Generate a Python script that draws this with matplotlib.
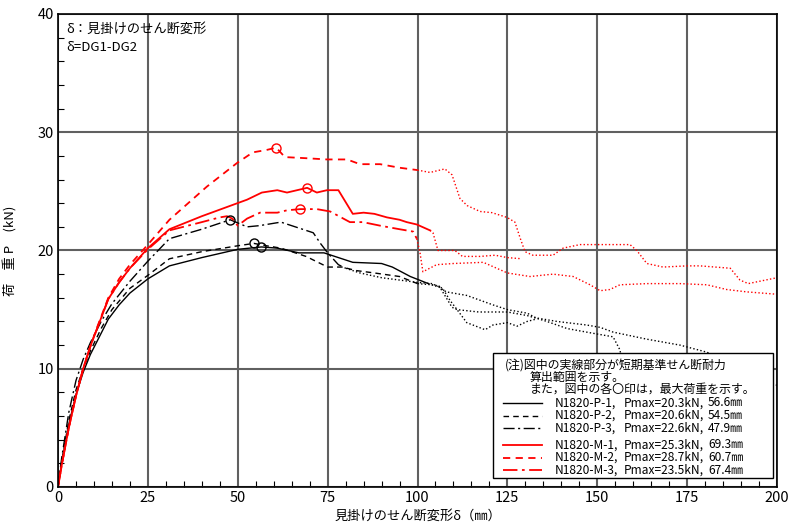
import numpy as np
import matplotlib
matplotlib.use("Agg")
import matplotlib.pyplot as plt
from matplotlib.patches import Rectangle
from matplotlib.lines import Line2D

plt.rcParams['font.family'] = ['Noto Sans CJK JP', 'DejaVu Sans']

# ---- specimen data: shear deformation (mm) vs load (kN) ----
# "main" = evaluated range (solid / dashed / dash-dot), "post" = dotted continuation
p1_main_x = [0, 1, 3, 5, 7, 9, 12, 14, 17, 20, 25, 31, 40, 50, 56.6, 61, 67, 74, 77, 82, 90, 93, 98, 103]
p1_main_y = [0, 2.0, 5.3, 7.8, 9.7, 11.2, 13.0, 14.2, 15.4, 16.4, 17.6, 18.7, 19.4, 20.1, 20.3, 20.2, 19.8, 19.8, 19.5, 19.0, 18.9, 18.6, 17.8, 17.2]
p1_post_x = [103, 106, 108, 113.7, 121, 125, 130.5, 133, 138.8, 147, 150.8, 154.4, 163.8, 173, 180.5, 190, 200]
p1_post_y = [17.2, 16.9, 16.5, 16.2, 15.4, 15.0, 14.7, 14.3, 14.0, 13.7, 13.5, 13.1, 12.5, 12.0, 11.4, 10.1, 8.6]

p2_main_x = [0, 1, 3, 5, 7, 9, 12, 15, 20, 25, 31, 40, 50, 54.5, 58, 62, 69, 75, 79, 83, 88, 95, 100]
p2_main_y = [0, 2.1, 5.6, 8.2, 10.0, 11.5, 13.4, 15.0, 16.8, 17.9, 19.3, 19.9, 20.4, 20.6, 20.4, 20.2, 19.5, 18.6, 18.6, 18.3, 18.1, 17.8, 17.2]
p2_post_x = [100, 104, 106, 108, 109.6, 111, 117, 125, 130.5, 136, 141.6, 148.8, 154.4, 156.3, 158]
p2_post_y = [17.2, 17.1, 17.0, 16.0, 15.2, 15.0, 14.8, 14.8, 14.5, 14.0, 13.4, 13.0, 12.7, 11.6, 9.0]

p3_main_x = [0, 1, 3, 5, 7, 9, 12, 15, 20, 25, 31, 40, 47.9, 52.6, 56, 62, 67, 71, 73, 75, 78, 80]
p3_main_y = [0, 2.4, 6.3, 9.0, 10.8, 12.2, 14.0, 15.5, 17.4, 19.1, 21.0, 21.8, 22.6, 22.0, 22.1, 22.4, 21.9, 21.5, 20.6, 19.8, 18.8, 18.5]
p3_post_x = [80, 84, 90, 95, 100, 104, 107, 109, 111, 113.7, 118.8, 121, 125, 127.7, 130.5, 133]
p3_post_y = [18.5, 18.1, 17.7, 17.5, 17.3, 17.2, 16.8, 15.8, 15.0, 13.9, 13.3, 13.7, 13.9, 13.6, 14.0, 14.2]

m1_main_x = [0, 1, 3, 5, 7, 9, 11, 14, 17, 20, 25, 31, 40, 52.6, 56.7, 61, 63.7, 69.3, 72, 74.8, 78, 82, 85, 88, 91.5, 95, 97, 99.8, 103.5]
m1_main_y = [0, 1.8, 5.0, 7.7, 10.0, 11.9, 13.5, 15.9, 17.3, 18.5, 20.2, 21.8, 22.9, 24.3, 24.9, 25.1, 24.9, 25.3, 24.9, 25.1, 25.1, 23.1, 23.2, 23.1, 22.8, 22.6, 22.4, 22.2, 21.7]
m1_post_x = [103.5, 104.3, 105.7, 108, 110.4, 112.5, 117.4, 121.6, 125, 129]
m1_post_y = [21.7, 21.5, 20.0, 20.0, 20.0, 19.5, 19.5, 19.6, 19.4, 19.3]

m2_main_x = [0, 1, 3, 5, 7, 9, 11, 14, 17, 20, 25, 31, 41.4, 49.8, 54.2, 58, 60.7, 63.1, 69.3, 74.8, 80.4, 84, 89.6, 95, 100]
m2_main_y = [0, 1.8, 5.0, 7.7, 10.0, 11.9, 13.6, 16.0, 17.6, 18.8, 20.5, 22.6, 25.4, 27.4, 28.3, 28.5, 28.7, 27.9, 27.8, 27.7, 27.7, 27.3, 27.3, 27.0, 26.8]
m2_post_x = [100, 103.5, 107.6, 109.6, 111.8, 113.8, 117.4, 120.7, 124.9, 127.1, 128.5, 129.9, 132.1, 137.7, 140.5, 145.2,
             149.9, 154.4, 159.1, 161, 163.8, 168.3, 175, 178.6, 187, 189.7, 192, 200]
m2_post_y = [26.8, 26.6, 26.9, 26.4, 24.4, 23.8, 23.3, 23.2, 22.8, 22.4, 21.1, 19.9, 19.6, 19.6, 20.2, 20.5,
             20.5, 20.5, 20.5, 20.0, 18.9, 18.6, 18.7, 18.7, 18.5, 17.5, 17.2, 17.7]

m3_main_x = [0, 1, 3, 5, 7, 9, 11, 14, 17, 20, 25, 31, 40, 45, 47, 48.5, 50, 52.6, 56.2, 61, 63.7, 67.4, 72, 75.7, 81.2, 84.8, 89.6, 95, 98.8, 99.8]
m3_main_y = [0, 1.8, 5.0, 7.7, 10.0, 11.9, 13.5, 15.9, 17.3, 18.5, 20.1, 21.7, 22.4, 22.8, 22.9, 22.7, 22.1, 22.7, 23.2, 23.2, 23.4, 23.5, 23.5, 23.3, 22.4, 22.4, 22.1, 21.8, 21.6, 21.0]
m3_post_x = [99.8, 100.7, 101.5, 105.3, 110, 118.3, 125, 131.3, 137.7, 143.3, 148, 150.8, 153.5, 156.3, 163.8, 173, 180.5, 186, 191.6, 200]
m3_post_y = [21.0, 19.8, 18.2, 18.8, 18.9, 19.0, 18.1, 17.8, 18.0, 17.8, 17.1, 16.6, 16.7, 17.1, 17.2, 17.2, 17.1, 16.7, 16.5, 16.3]

names = ['N1820-P-1', 'N1820-P-2', 'N1820-P-3', 'N1820-M-1', 'N1820-M-2', 'N1820-M-3']
pmax = [20.3, 20.6, 22.6, 25.3, 28.7, 23.5]
dmax = [56.6, 54.5, 47.9, 69.3, 60.7, 67.4]

x_ticks = [0, 25, 50, 75, 100, 125, 150, 175, 200]
y_ticks = [0, 10, 20, 30, 40]

series = [
    (p1_main_x, p1_main_y, p1_post_x, p1_post_y),
    (p2_main_x, p2_main_y, p2_post_x, p2_post_y),
    (p3_main_x, p3_main_y, p3_post_x, p3_post_y),
    (m1_main_x, m1_main_y, m1_post_x, m1_post_y),
    (m2_main_x, m2_main_y, m2_post_x, m2_post_y),
    (m3_main_x, m3_main_y, m3_post_x, m3_post_y),
]
colors = ['black', 'black', 'black', '#ff0000', '#ff0000', '#ff0000']
styles = ['-', (0, (4, 3)), (0, (8, 2.5, 1.5, 2.5)), '-', (0, (4, 3)), (0, (8, 2.5, 1.5, 2.5))]
widths = [1.0, 1.0, 1.0, 1.3, 1.3, 1.3]

fig = plt.figure(figsize=(7.89, 5.25), dpi=100)
ax = fig.add_axes([58 / 789, 38 / 525, 719 / 789, 473 / 525])

for (mx, my, qx, qy), c, ls, lw in zip(series, colors, styles, widths):
    ax.plot(mx, my, color=c, linestyle=ls, lw=lw, zorder=3)
    ax.plot(qx, qy, color=c, linestyle=(0, (1, 1.6)), lw=1.0, zorder=3)

for d, p, c in zip(dmax, pmax, colors):
    ax.plot(d, p, marker='o', ms=6.5, mfc='none', mec=c, mew=1.0, zorder=4)

ax.set_xlim(0, 200)
ax.set_ylim(0, 40)
ax.set_xticks(x_ticks)
ax.set_yticks(y_ticks)
ax.set_xticks(np.arange(0, 201, 5), minor=True)
ax.set_yticks(np.arange(0, 41, 2), minor=True)
ax.grid(True, which='major', color='#606060', lw=1.5, zorder=1)
ax.tick_params(which='both', direction='in', top=False, right=False)
ax.tick_params(which='major', length=0, labelsize=10.5, pad=3)
ax.tick_params(which='minor', length=4, width=0.8)
for s in ax.spines.values():
    s.set_linewidth(1.2)
    s.set_zorder(5)

ax.set_xlabel('見掛けのせん断変形δ（㎜）', fontsize=9.5, labelpad=3)
ax.set_ylabel('荷　重 P　(kN)', fontsize=9.5, labelpad=14)

ax.text(0.011, 0.981, 'δ：見掛けのせん断変形', transform=ax.transAxes, fontsize=9.5,
        va='top', ha='left', zorder=6)
ax.text(0.011, 0.943, 'δ=DG1-DG2', transform=ax.transAxes, fontsize=9.5,
        va='top', ha='left', zorder=6, linespacing=1.0)

# note box with line samples
def px2ax(px, py):
    return (px - 58) / 719, (487 - py) / 473

bx0, by0 = px2ax(493, 478)
bx1, by1 = px2ax(773, 353)
ax.add_patch(Rectangle((bx0, by0), bx1 - bx0, by1 - by0, transform=ax.transAxes,
                       facecolor='white', edgecolor='black', lw=1.0, zorder=7))

fs = 8.6
note_lines = [(505, 365, '(注)図中の実線部分が短期基準せん断耐力'),
              (530, 377, '算出範囲を示す。'),
              (530, 389, 'また，図中の各〇印は，最大荷重を示す。')]
for px, py, t in note_lines:
    x, y = px2ax(px, py)
    ax.text(x, y, t, transform=ax.transAxes, fontsize=fs, va='center', ha='left', zorder=8)

entry_py = [403, 415.5, 428, 445, 457.5, 470]
for i, py in enumerate(entry_py):
    xa, y = px2ax(503, py)
    xb, _ = px2ax(542, py)
    ax.add_line(Line2D([xa, xb], [y, y], transform=ax.transAxes, color=colors[i],
                       linestyle=styles[i], lw=widths[i], zorder=8))
    for px, t in [(555, names[i] + ','), (624, 'Pmax=%.1fkN,' % pmax[i]), (708, '%.1f㎜' % dmax[i])]:
        x, _ = px2ax(px, py)
        ax.text(x, y, t, transform=ax.transAxes, fontsize=fs, va='center', ha='left', zorder=8)

fig.savefig('out.png', dpi=100)
